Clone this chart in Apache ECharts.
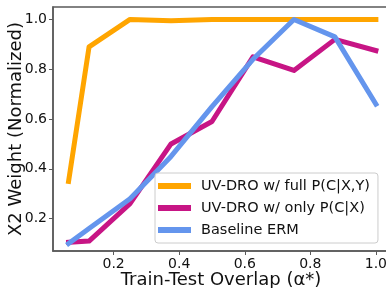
<!DOCTYPE html>
<html>
<head>
<meta charset="utf-8">
<script src="https://cdn.jsdelivr.net/npm/echarts@6/dist/echarts.min.js"></script>
<style>
  html, body { margin: 0; padding: 0; background: #fff; }
  #box { width: 386px; height: 288px; }
</style>
</head>
<body>
<div id="box"></div>
<script>
// 数据
var overlap = [0.0625, 0.125, 0.25, 0.375, 0.5, 0.625, 0.75, 0.875, 1.0];
var fullPCXY = [0.35, 0.89, 1.0, 0.995, 1.0, 1.0, 1.0, 1.0, 1.0];
var onlyPCX = [0.105, 0.11, 0.26, 0.50, 0.59, 0.85, 0.795, 0.92, 0.875];
var baseline = [0.10, 0.16, 0.28, 0.45, 0.65, 0.84, 1.0, 0.93, 0.66];
var xTicks = [0.2, 0.4, 0.6, 0.8, 1.0];
var yTicks = [0.2, 0.4, 0.6, 0.8, 1.0];
var names = ["UV-DRO w/ full P(C|X,Y)", "UV-DRO w/ only P(C|X)", "Baseline ERM"];

function pairs(xs, ys) {
    return xs.map(function (x, i) { return [x, ys[i]]; });
}

var font = "DejaVu Sans";
var spine = "#5a5a5a";
var myChart = echarts.init(document.getElementById("box"));

function line(name, data, color) {
    return {
        name: name,
        type: "line",
        data: pairs(overlap, data),
        symbol: "none",
        lineStyle: { color: color, width: 5, cap: "square", join: "round" },
        itemStyle: { color: color },
        animation: false
    };
}

var option = {
    backgroundColor: "#fff",
    grid: {
        left: 53, top: 7, right: -3, bottom: 37,
        outerBoundsMode: "none",
        containLabel: false,
        show: true, borderColor: spine, borderWidth: 1.5
    },
    legend: {
        data: names,
        orient: "vertical",
        left: 155, top: 173,
        padding: [5, 8, 5, 3],
        itemGap: 6,
        itemWidth: 33,
        itemHeight: 6,
        icon: "rect",
        selectedMode: false,
        backgroundColor: "rgba(255,255,255,0.85)",
        borderColor: "#ccc",
        borderWidth: 1,
        borderRadius: 3,
        textStyle: { fontFamily: font, fontSize: 14.5, lineHeight: 16, color: "#111", padding: [0, 0, 0, 5] }
    },
    xAxis: {
        type: "value",
        min: 0.015, max: 1.04,
        name: "Train-Test Overlap (\u03b1*)",
        nameLocation: "middle",
        nameGap: 20,
        nameMoveOverlap: false,
        nameTextStyle: { fontFamily: font, fontSize: 18, color: "#111" },
        axisLine: { lineStyle: { color: spine, width: 1.5 } },
        axisTick: { show: true, length: 4, customValues: xTicks, lineStyle: { color: spine } },
        axisLabel: {
            customValues: xTicks, margin: 6,
            fontFamily: font, fontSize: 14, color: "#111",
            formatter: function (v) { return v.toFixed(1); }
        },
        splitLine: { show: false }
    },
    yAxis: {
        type: "value",
        min: 0.07, max: 1.05,
        name: "X2 Weight (Normalized)",
        nameLocation: "middle",
        nameGap: 28,
        nameMoveOverlap: false,
        nameTextStyle: { fontFamily: font, fontSize: 18, color: "#111" },
        axisLine: { show: true, lineStyle: { color: spine, width: 1.5 } },
        axisTick: { show: true, length: 4, customValues: yTicks, lineStyle: { color: spine } },
        axisLabel: {
            customValues: yTicks, margin: 6,
            fontFamily: font, fontSize: 14, color: "#111",
            formatter: function (v) { return v.toFixed(1); }
        },
        splitLine: { show: false }
    },
    series: [
        line(names[0], fullPCXY, "#FFA500"),
        line(names[1], onlyPCX, "#C71585"),
        line(names[2], baseline, "#6495ED")
    ]
};
myChart.setOption(option);
</script>
</body>
</html>
